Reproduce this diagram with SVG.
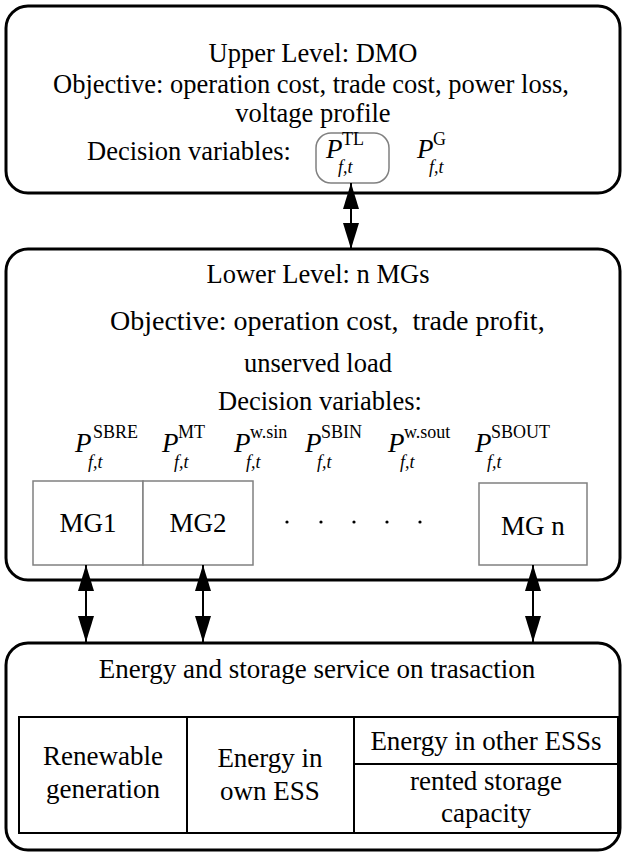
<svg xmlns="http://www.w3.org/2000/svg" width="626" height="854" viewBox="0 0 626 854" font-family="Liberation Serif, Times New Roman, serif">
<style>
text{font-family:'Liberation Serif','Times New Roman',serif;fill:#000}
.t{font-size:26.5px;text-anchor:middle}
.tb{font-size:27px;text-anchor:middle}
.P{font-size:27px;font-style:italic}
.sup{font-size:18px}
.sub{font-size:18px;font-style:italic}
.frame{fill:#fff;stroke:#000;stroke-width:3}
.mg{fill:#fff;stroke:#808080;stroke-width:1.5}
.cell{fill:none;stroke:#000;stroke-width:2}
.conn line{stroke:#000;stroke-width:2}
</style>
<defs>
<marker id="ah" viewBox="0 0 26 16" refX="26" refY="8" markerWidth="26" markerHeight="16" markerUnits="userSpaceOnUse" orient="auto-start-reverse">
<path d="M0,0 L26,8 L0,16 Z" fill="#000"/>
</marker>
</defs>
<rect width="626" height="854" fill="#fff"/>

<g id="upper">
<rect class="frame" x="6" y="6" width="614" height="187" rx="22"/>
<text class="t" x="313" y="62">Upper Level: DMO</text>
<text class="t" x="311" y="93">Objective: operation cost, trade cost, power loss,</text>
<text class="t" x="313" y="122">voltage profile</text>
<text class="t" x="189" y="160">Decision variables:</text>
<rect x="316" y="133" width="73" height="50" rx="15" fill="none" stroke="#808080" stroke-width="1.5"/>
<text class="P" x="326" y="158">P</text><text class="sup" x="342" y="145">TL</text><text class="sub" x="338" y="173">f,t</text>
<text class="P" x="417" y="158">P</text><text class="sup" x="433" y="145">G</text><text class="sub" x="429" y="173">f,t</text>
</g>

<g id="lower">
<rect class="frame" x="6" y="249" width="614" height="331" rx="22"/>
<text class="t" x="318" y="283">Lower Level: n MGs</text>
<text x="110" y="330" font-size="28" xml:space="preserve">Objective: operation cost,  trade profit,</text>
<text class="t" x="318" y="372">unserved load</text>
<text class="t" x="320" y="410">Decision variables:</text>
<text class="P" x="75" y="452">P</text><text class="sup" x="93" y="438">SBRE</text><text class="sub" x="88" y="468">f,t</text>
<text class="P" x="162" y="452">P</text><text class="sup" x="178" y="438">MT</text><text class="sub" x="174" y="468">f,t</text>
<text class="P" x="234" y="452">P</text><text class="sup" x="250" y="438">w.sin</text><text class="sub" x="246" y="468">f,t</text>
<text class="P" x="305" y="452">P</text><text class="sup" x="321" y="438">SBIN</text><text class="sub" x="317" y="468">f,t</text>
<text class="P" x="388" y="452">P</text><text class="sup" x="404" y="438">w.sout</text><text class="sub" x="400" y="468">f,t</text>
<text class="P" x="475" y="452">P</text><text class="sup" x="491" y="438">SBOUT</text><text class="sub" x="487" y="468">f,t</text>
<g fill="#000"><circle cx="287" cy="522" r="1.6"/><circle cx="321" cy="522" r="1.6"/><circle cx="354" cy="522" r="1.6"/><circle cx="387" cy="522" r="1.6"/><circle cx="420" cy="522" r="1.6"/></g>
</g>

<g id="mg1"><rect class="mg" x="33" y="481" width="110" height="84"/><text class="tb" x="88" y="532">MG1</text></g>
<g id="mg2"><rect class="mg" x="143" y="481" width="110" height="84"/><text class="tb" x="198" y="532">MG2</text></g>
<g id="mgn"><rect class="mg" x="479" y="483" width="108" height="82"/><text class="tb" x="533" y="535">MG n</text></g>

<g id="service">
<rect class="frame" x="6" y="643" width="614" height="207" rx="22"/>
<text class="tb" x="317" y="678">Energy and storage service on trasaction</text>
<rect class="cell" x="19" y="717" width="599" height="116"/>
<line class="cell" x1="187" y1="717" x2="187" y2="833"/>
<line class="cell" x1="354" y1="717" x2="354" y2="833"/>
<line class="cell" x1="354" y1="764" x2="618" y2="764"/>
<text class="tb" x="103" y="765">Renewable</text>
<text class="tb" x="103" y="798">generation</text>
<text class="tb" x="270" y="767">Energy in</text>
<text class="tb" x="270" y="800">own ESS</text>
<text class="tb" x="486" y="750">Energy in other ESSs</text>
<text class="tb" x="486" y="790">rented storage</text>
<text class="tb" x="486" y="822">capacity</text>
</g>

<g class="conn" id="connectors">
<line x1="351" y1="183" x2="351" y2="249" marker-start="url(#ah)" marker-end="url(#ah)"/>
<line x1="86" y1="565" x2="86" y2="642" marker-start="url(#ah)" marker-end="url(#ah)"/>
<line x1="203" y1="565" x2="203" y2="642" marker-start="url(#ah)" marker-end="url(#ah)"/>
<line x1="533" y1="565" x2="533" y2="642" marker-start="url(#ah)" marker-end="url(#ah)"/>
</g>
</svg>
